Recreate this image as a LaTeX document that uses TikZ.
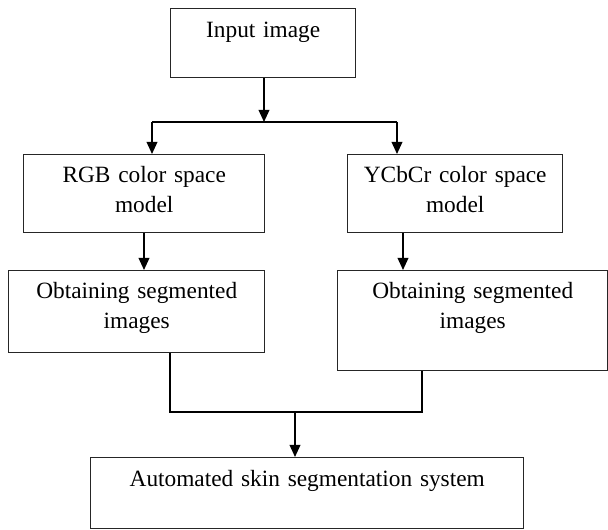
\documentclass[tikz,border=0pt]{standalone}
\usepackage{fontspec}
\setmainfont{Liberation Serif}
\usetikzlibrary{arrows.meta}
\tikzset{
  stage/.style={draw=black!85, line width=1.1pt, anchor=north west, align=center, inner sep=0pt, font=\fontsize{17.5}{22}\selectfont},
  flow/.style={-{Triangle[length=9pt,width=8pt]}, black, line width=1.1pt},
  link/.style={black, line width=1.1pt},
}
\begin{document}
\begin{tikzpicture}[x=0.75pt, y=-0.75pt]
  \useasboundingbox (0,0) rectangle (608,530);
  % boxes, placed by their top left corners
  \node[stage, text width=138.75pt, text height=21.75pt, text depth=30pt] (in) at (170,8) {Input image};
  \node[stage, text width=180.75pt, text height=21pt, text depth=37.5pt] (rgb) at (23,154) {RGB color space\\model};
  \node[stage, text width=161.25pt, text height=21pt, text depth=37.5pt] (ycc) at (347,154) {YCbCr color space\\model};
  \node[stage, text width=192pt, text height=21pt, text depth=40.5pt] (segl) at (8,270) {Obtaining segmented\\images};
  \node[stage, text width=202.5pt, text height=21pt, text depth=54pt] (segr) at (337,270) {Obtaining segmented\\images};
  \node[stage, text width=324.75pt, text height=21.75pt, text depth=31.5pt] (sys) at (90,457) {Automated skin segmentation system};
  % junctions
  \coordinate (split) at (264,122);
  \coordinate (splitl) at (152,122);
  \coordinate (splitr) at (397,122);
  \coordinate (dropl) at (144,0);
  \coordinate (dropr) at (403,0);
  \coordinate (mergel) at (170,412);
  \coordinate (merger) at (422,412);
  \coordinate (join) at (295,412);
  \draw[flow] (in.south -| split) -- (split);
  \draw[link] (splitl) -- (splitr);
  \draw[flow] (splitl) -- (splitl |- rgb.north);
  \draw[flow] (splitr) -- (splitr |- ycc.north);
  \draw[flow] (rgb.south -| dropl) -- (dropl |- segl.north);
  \draw[flow] (ycc.south -| dropr) -- (dropr |- segr.north);
  \draw[link] (segl.south -| mergel) -- (mergel) -- (merger) -- (segr.south -| merger);
  \draw[flow] (join) -- (join |- sys.north);
\end{tikzpicture}
\end{document}
